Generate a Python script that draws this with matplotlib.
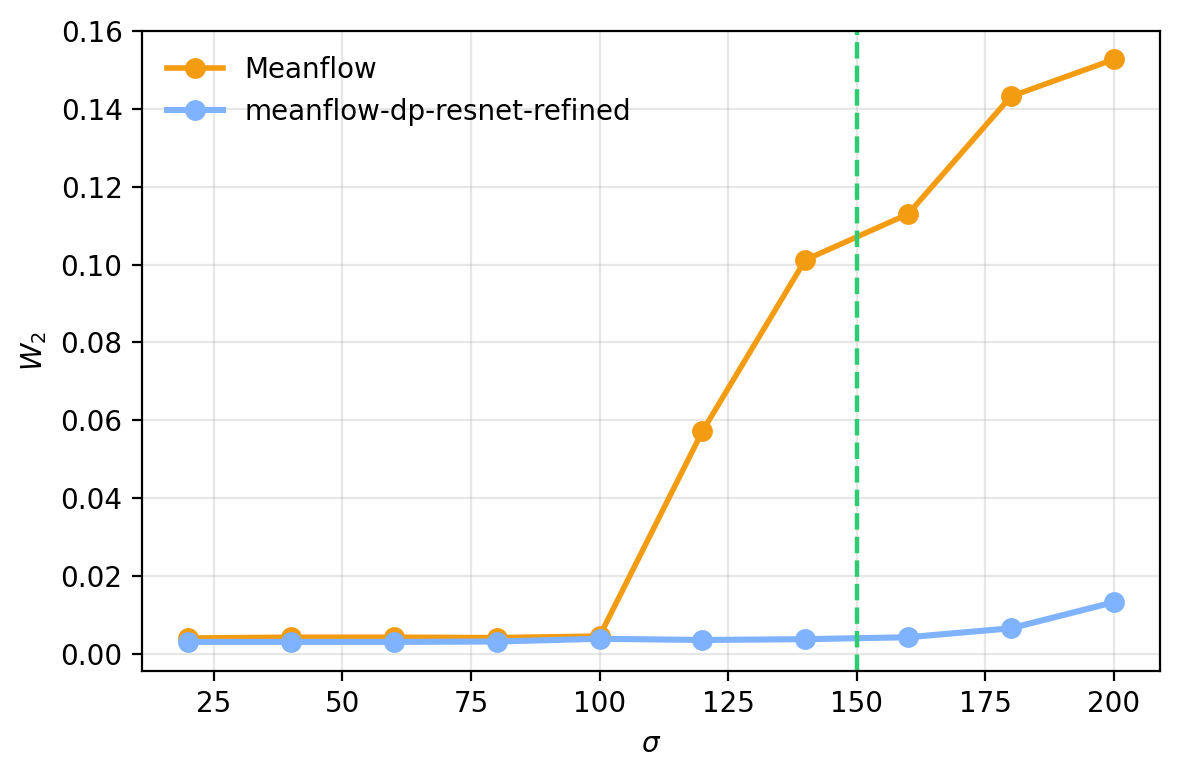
import matplotlib
matplotlib.use("Agg")
import matplotlib.pyplot as plt

sigma = [20, 40, 60, 80, 100, 120, 140, 160, 180, 200]
meanflow = [0.0041, 0.0043, 0.0043, 0.0042, 0.0046, 0.0572, 0.1012, 0.1130, 0.1432, 0.1527]
refined = [0.0031, 0.0031, 0.0031, 0.0032, 0.0039, 0.0036, 0.0038, 0.0043, 0.0066, 0.0133]
threshold = 150

fig, ax = plt.subplots(figsize=(5.9, 3.895), dpi=200)
fig.subplots_adjust(left=0.1203, right=0.9831, top=0.9602, bottom=0.1386)
ax.plot(sigma, meanflow, '-o', color='#f39c12', lw=2, ms=6.5, label='Meanflow')
ax.plot(sigma, refined, '-o', color='#80b3ff', lw=2.2, ms=6.5, label='meanflow-dp-resnet-refined')
ax.axvline(threshold, color='#2ecc71', ls='--', lw=1.6)
ax.set_ylim(top=0.16)
ax.set_xlabel(r'$\sigma$')
ax.set_ylabel(r'$W_2$')
ax.grid(True, alpha=0.3)
ax.legend(frameon=False, loc='upper left')
fig.savefig('out.png', dpi=200)
